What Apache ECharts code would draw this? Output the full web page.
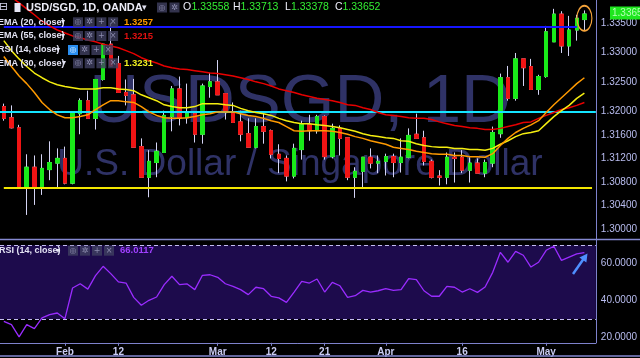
<!DOCTYPE html>
<html><head><meta charset="utf-8">
<script src="https://cdn.jsdelivr.net/npm/echarts@6/dist/echarts.min.js"></script>
<style>html,body{margin:0;padding:0;background:#000;}#c{width:640px;height:358px;}</style>
</head><body><div id="c"></div>
<script>
const dates = ['Jan 22','Jan 23','Jan 24','Jan 25','Jan 26','Jan 29','Jan 30','Jan 31',
'Feb 1','Feb 2','Feb 5','Feb 6','Feb 7','Feb 8','Feb 9','Feb 12','Feb 13','Feb 14','Feb 15','Feb 16','Feb 19','Feb 20','Feb 21','Feb 22','Feb 23','Feb 26','Feb 27','Feb 28',
'Mar 1','Mar 2','Mar 5','Mar 6','Mar 7','Mar 8','Mar 9','Mar 12','Mar 13','Mar 14','Mar 15','Mar 16','Mar 19','Mar 20','Mar 21','Mar 22','Mar 23','Mar 26','Mar 27','Mar 28','Mar 29','Mar 30',
'Apr 2','Apr 3','Apr 4','Apr 5','Apr 6','Apr 9','Apr 10','Apr 11','Apr 12','Apr 13','Apr 16','Apr 17','Apr 18','Apr 19','Apr 20','Apr 23','Apr 24','Apr 25','Apr 26','Apr 27','Apr 30',
'May 1','May 2','May 3','May 4','May 7','May 8','May 9'];
const tickLabels = {'Feb 1':'Feb','Feb 12':'12','Mar 1':'Mar','Mar 12':'12','Mar 21':'21','Apr 2':'Apr','Apr 16':'16','May 1':'May'};
// [open, close, low, high]
const ohlc = [
[1.3208,1.3188,1.3184,1.3213],[1.3189,1.3172,1.3171,1.3210],[1.3172,1.3069,1.3068,1.3177],[1.3069,1.3105,1.3024,1.3127],
[1.3105,1.3071,1.3041,1.3125],[1.3071,1.3103,1.3058,1.3127],[1.3101,1.3113,1.3083,1.3149],[1.3112,1.3120,1.3069,1.3137],
[1.3120,1.3078,1.3076,1.3140],[1.3078,1.3198,1.3076,1.3199],[1.3196,1.3218,1.3161,1.3222],[1.3218,1.3188,1.3188,1.3235],
[1.3188,1.3254,1.3169,1.3254],[1.3254,1.3314,1.3252,1.3316],[1.3314,1.3277,1.3277,1.3350],[1.3281,1.3232,1.3232,1.3294],
[1.3232,1.3227,1.3210,1.3254],[1.3228,1.3139,1.3139,1.3255],[1.3140,1.3088,1.3088,1.3154],[1.3088,1.3115,1.3054,1.3134],
[1.3113,1.3132,1.3088,1.3147],[1.3130,1.3193,1.3130,1.3201],[1.3191,1.3238,1.3166,1.3243],[1.3238,1.3189,1.3176,1.3259],
[1.3189,1.3196,1.3179,1.3247],[1.3196,1.3161,1.3147,1.3196],[1.3161,1.3243,1.3145,1.3247],[1.3242,1.3250,1.3223,1.3265],
[1.3250,1.3228,1.3228,1.3287],[1.3230,1.3198,1.3186,1.3230],[1.3198,1.3181,1.3181,1.3215],[1.3182,1.3161,1.3149,1.3201],
[1.3162,1.3139,1.3139,1.3188],[1.3139,1.3174,1.3137,1.3188],[1.3174,1.3166,1.3145,1.3198],[1.3167,1.3127,1.3120,1.3169],
[1.3127,1.3120,1.3095,1.3144],[1.3120,1.3090,1.3081,1.3125],[1.3090,1.3137,1.3086,1.3145],[1.3135,1.3179,1.3118,1.3184],
[1.3177,1.3167,1.3150,1.3194],[1.3167,1.3191,1.3162,1.3194],[1.3191,1.3123,1.3118,1.3193],[1.3123,1.3171,1.3120,1.3179],
[1.3171,1.3154,1.3125,1.3176],[1.3155,1.3088,1.3083,1.3155],[1.3088,1.3098,1.3053,1.3105],[1.3098,1.3122,1.3071,1.3122],
[1.3122,1.3112,1.3103,1.3137],[1.3112,1.3115,1.3095,1.3125],[1.3115,1.3123,1.3091,1.3128],[1.3123,1.3113,1.3088,1.3128],
[1.3113,1.3122,1.3096,1.3154],[1.3122,1.3159,1.3120,1.3171],[1.3161,1.3154,1.3154,1.3196],[1.3155,1.3115,1.3108,1.3167],
[1.3115,1.3088,1.3086,1.3118],[1.3090,1.3088,1.3074,1.3100],[1.3088,1.3122,1.3076,1.3130],[1.3122,1.3120,1.3079,1.3130],
[1.3122,1.3100,1.3095,1.3134],[1.3100,1.3112,1.3079,1.3122],[1.3112,1.3095,1.3095,1.3120],[1.3095,1.3113,1.3088,1.3118],
[1.3112,1.3164,1.3105,1.3174],[1.3162,1.3257,1.3155,1.3264],[1.3257,1.3222,1.3218,1.3277],[1.3222,1.3289,1.3218,1.3299],
[1.3289,1.3274,1.3243,1.3289],[1.3276,1.3237,1.3237,1.3289],[1.3237,1.3259,1.3228,1.3262],[1.3259,1.3335,1.3257,1.3345],
[1.3318,1.3365,1.3318,1.3374],[1.3365,1.3311,1.3299,1.3370],[1.3311,1.3338,1.3294,1.3362],[1.3338,1.3358,1.3320,1.3364],
[1.33558,1.33652,1.33378,1.33713]];
const ema20 = [1.3293,1.3276,1.3260,1.3247,1.3232,1.3215,1.3203,1.3194,1.3189,1.3189,
1.3191,1.3194,1.3203,1.3211,1.3218,1.3218,1.3216,1.3215,1.3208,1.3199,
1.3193,1.3189,1.3188,1.3188,1.3189,1.3191,1.3194,1.3196,1.3199,1.3199,
1.3199,1.3196,1.3193,1.3191,1.3188,1.3184,1.3181,1.3174,1.3167,1.3166,
1.3167,1.3167,1.3167,1.3166,1.3164,1.3161,1.3157,1.3154,1.3150,1.3147,
1.3144,1.3139,1.3137,1.3135,1.3132,1.3130,1.3128,1.3127,1.3127,1.3125,
1.3125,1.3123,1.3123,1.3122,1.3128,1.3142,1.3154,1.3164,1.3171,1.3177,
1.3184,1.3198,1.3211,1.3223,1.3235,1.3247,1.3257];
const ema55 = [1.3402,1.3394,1.3384,1.3374,1.3364,1.3353,1.3345,1.3338,1.3333,1.3328,
1.3325,1.3321,1.3318,1.3314,1.3311,1.3308,1.3303,1.3298,1.3291,1.3286,
1.3282,1.3277,1.3274,1.3272,1.3271,1.3269,1.3267,1.3265,1.3264,1.3262,
1.3260,1.3257,1.3254,1.3250,1.3247,1.3243,1.3238,1.3235,1.3232,1.3228,
1.3225,1.3222,1.3220,1.3218,1.3215,1.3211,1.3210,1.3206,1.3203,1.3198,
1.3194,1.3193,1.3191,1.3189,1.3188,1.3188,1.3186,1.3182,1.3179,1.3176,
1.3174,1.3172,1.3171,1.3169,1.3169,1.3171,1.3174,1.3177,1.3181,1.3182,
1.3188,1.3193,1.3198,1.3203,1.3206,1.3210,1.3215];
const ema30 = [1.3320,1.3303,1.3289,1.3276,1.3265,1.3257,1.3250,1.3245,1.3242,1.3240,
1.3238,1.3238,1.3238,1.3240,1.3240,1.3238,1.3237,1.3235,1.3228,1.3223,
1.3218,1.3211,1.3208,1.3206,1.3206,1.3208,1.3213,1.3213,1.3213,1.3211,
1.3210,1.3205,1.3201,1.3198,1.3196,1.3193,1.3188,1.3184,1.3181,1.3179,
1.3179,1.3177,1.3176,1.3174,1.3172,1.3169,1.3166,1.3162,1.3159,1.3157,
1.3155,1.3154,1.3150,1.3149,1.3145,1.3142,1.3140,1.3139,1.3139,1.3137,
1.3137,1.3135,1.3135,1.3134,1.3137,1.3144,1.3150,1.3157,1.3162,1.3164,
1.3167,1.3179,1.3191,1.3201,1.3210,1.3222,1.3231];
const rsi = [28.7,26.9,20.2,26.9,24.7,30.5,32.3,33.2,30.1,46.8,
49.1,46.2,53.5,58.6,54.6,50.1,49.5,41.7,37.4,40.1,
41.9,48.6,53.2,48.6,49.0,45.9,53.7,54.0,52.6,49.1,
47.7,45.9,43.2,47.2,46.4,42.3,41.4,39.0,44.6,50.4,
49.5,51.7,44.6,49.9,48.0,41.7,42.6,45.5,44.6,45.3,
46.4,45.5,45.9,51.9,51.3,45.3,42.3,42.3,47.7,47.2,
44.6,46.4,44.4,47.3,55.3,66.2,60.8,66.7,64.6,58.2,
60.8,67.3,69.5,61.8,63.6,65.3,66.0117];
const priceTicks = [1.335,1.330,1.325,1.320,1.316,1.312,1.308,1.304,1.300];
const rsiTicks = [20,40,60];
const levelBlue = 1.3343, levelCyan = 1.3212, levelYellow = 1.3070;
const rsiBands = [30,70];
const lastClose = 1.33652;

const FONT = '"Liberation Sans", Arial, sans-serif';
const AXIS = '#7e82cc', LBL = '#b9bdf0', WICK = '#d4d4f4', UP = '#19ea19', DOWN = '#f01414';

const chart = echarts.init(document.getElementById('c'), null, {renderer:'canvas'});

function txt(x, y, text, fill, font, z, align){
  return {type:'text', x:x, y:y, z:z||100, silent:true,
    style:{text:text, fill:fill, font:font, align:align||'left', verticalAlign:'middle', textAlign:align||'left', textVerticalAlign:'middle'}};
}
function iconBox(x, y, glyph, fill){
  return [{type:'rect', z:99, silent:true, shape:{x:x, y:y-5, width:10, height:10}, style:{fill:fill||'rgba(64,64,96,0.8)'}},
          txt(x+5, y, glyph, fill ? '#dff0ff' : '#8c8cae', '8px "DejaVu Sans"', 100, 'center')];
}
const g = [];
// watermark
g.push(txt(300, 103, 'USDSGD, 1D', '#2f3266', '69px ' + FONT, -5, 'center'));
g.push(txt(300, 165, 'U.S. Dollar / Singapore Dollar', '#2f3266', '37px ' + FONT, -5, 'center'));
// header
g.push(txt(-1, 7.5, '⊟', '#d0d0e8', '11px "DejaVu Sans"'));
g.push({type:'rect', z:100, silent:true, shape:{x:14.5, y:3, width:6, height:9}, style:{fill:'#e6e6f5'}});
g.push(txt(26, 7.5, 'USD/SGD, 1D, OANDA', '#ececf8', 'bold 11px ' + FONT));
g.push(txt(142, 7.5, '▾', '#e0e0f0', '9px "DejaVu Sans"'));
g.push(...iconBox(157, 7.5, '◎'), ...iconBox(169.5, 7.5, '✲'));
[['O',183,'1.33558',191.5],['H',233,'1.33713',240.5],['L',285,'1.33378',291],['C',335,'1.33652',342.5]].forEach(a=>{
  g.push(txt(a[1], 7.5, a[0], '#ececf8', '10.5px ' + FONT));
  g.push(txt(a[3], 7.5, a[2], '#33ee33', '10.5px ' + FONT));
});
// indicator rows
[{t:'EMA (20, close)', y:22.3, v:'1.3257', c:'#ff9900', bx:73, ar:61},
 {t:'EMA (55, close)', y:36, v:'1.3215', c:'#e01010', bx:73, ar:61},
 {t:'RSI (14, close)', y:50, v:'', c:'', bx:68, ar:56, act:true},
 {t:'EMA (30, close)', y:63.3, v:'1.3231', c:'#f0f020', bx:73, ar:62}].forEach(r=>{
  g.push(txt(-2, r.y, r.t, '#e4e4f4', 'bold 9px ' + FONT));
  g.push(txt(r.ar, r.y, '▾', '#e4e4f4', '8px "DejaVu Sans"'));
  g.push(...iconBox(r.bx, r.y, '◎', r.act ? '#2a8ef0' : null), ...iconBox(r.bx+11.7, r.y, '✲'), ...iconBox(r.bx+23.4, r.y, '+'), ...iconBox(r.bx+35.1, r.y, '×'));
  if (r.v) g.push(txt(124, r.y, r.v, r.c, 'bold 9.5px ' + FONT));
});
// RSI panel legend
g.push(txt(-1, 250.7, 'RSI (14, close)', '#e4e4f4', 'bold 9px ' + FONT));
g.push(txt(56, 250.7, '▾', '#e4e4f4', '8px "DejaVu Sans"'));
g.push(...iconBox(68, 250.7, '◎'), ...iconBox(80, 250.7, '✲'), ...iconBox(92, 250.7, '+'), ...iconBox(104, 250.7, '×'));
g.push(txt(120, 250.7, rsi[rsi.length-1].toFixed(4), '#a040ff', 'bold 9.5px ' + FONT));
// separators
g.push({type:'line', z:50, silent:true, shape:{x1:0, y1:239.6, x2:640, y2:239.6}, style:{stroke:'#8488d0', lineWidth:1.5}});
g.push({type:'line', z:50, silent:true, shape:{x1:0, y1:356, x2:640, y2:356}, style:{stroke:'#8488d0', lineWidth:1.5}});
// last price tag
g.push({type:'rect', z:60, silent:true, shape:{x:610, y:6.5, width:30, height:13}, style:{fill:'#1ee61e'}});
g.push(txt(612, 13, lastClose.toFixed(5), '#b4ffb4', '10px ' + FONT, 61));
// arrow annotation
g.push({type:'line', z:60, silent:true, shape:{x1:573, y1:274, x2:583.5, y2:259}, style:{stroke:'#4f8fff', lineWidth:2.5}});
g.push({type:'polygon', z:60, silent:true, shape:{points:[[587.5,253.5],[586.4,262.6],[579.4,257.6]]}, style:{fill:'#4f8fff'}});

const bodies = ohlc.map(d => [d[0], d[1], Math.min(d[0], d[1]), Math.max(d[0], d[1])]);
const isTick = (i, v) => Object.prototype.hasOwnProperty.call(tickLabels, v);

const option = {
  backgroundColor:'#000000',
  animation:false,
  grid:[{left:-4.85, right:31, top:-1.06, height:241.9},
        {left:-4.85, right:31, top:239.8, height:103}],
  xAxis:[
    {type:'category', gridIndex:0, data:dates, boundaryGap:true, show:false},
    {type:'category', gridIndex:1, data:dates, boundaryGap:true,
     axisLine:{show:true, lineStyle:{color:AXIS, width:1}},
     axisTick:{show:true, alignWithLabel:true, interval:isTick, length:3, lineStyle:{color:AXIS}},
     axisLabel:{interval:isTick, formatter:v => tickLabels[v] || '', color:'#c9cbf2', fontSize:10, fontWeight:'bold', fontFamily:FONT, margin:4},
     splitLine:{show:false}}
  ],
  yAxis:[
    {type:'value', gridIndex:0, position:'right', min:1.298, max:1.3389, interval:0.001,
     axisLine:{show:true, lineStyle:{color:AXIS, width:1}}, axisTick:{show:false}, splitLine:{show:false},
     axisLabel:{color:LBL, fontSize:10, fontFamily:FONT, margin:5,
       formatter:v => priceTicks.some(t => Math.abs(t - v) < 1e-7) ? v.toFixed(5) : ''}},
    {type:'value', gridIndex:1, position:'right', min:17, max:73, interval:1,
     axisLine:{show:true, lineStyle:{color:AXIS, width:1}}, axisTick:{show:false}, splitLine:{show:false},
     axisLabel:{color:LBL, fontSize:10, fontFamily:FONT, margin:5,
       formatter:v => rsiTicks.some(t => Math.abs(t - v) < 1e-7) ? v.toFixed(4) : ''}}
  ],
  series:[
    {type:'candlestick', name:'wicks', xAxisIndex:0, yAxisIndex:0, data:ohlc, barWidth:4, z:3, silent:true,
     itemStyle:{color:WICK, color0:WICK, borderColor:WICK, borderColor0:WICK, borderWidth:1},
     markLine:{silent:true, symbol:'none', label:{show:false},
       data:[
         [{coord:[dates[0], levelBlue], lineStyle:{color:'#1616ff', width:2, type:'solid'}}, {coord:[dates[75], levelBlue]}],
         {yAxis:levelCyan, lineStyle:{color:'#14e4ff', width:2, type:'solid'}},
         [{coord:[dates[0], levelYellow], lineStyle:{color:'#f2e600', width:2, type:'solid'}}, {coord:[dates[77], levelYellow]}]
       ]}},
    {type:'candlestick', name:'USD/SGD', xAxisIndex:0, yAxisIndex:0, data:bodies, barWidth:4, z:4, silent:true,
     itemStyle:{color:UP, color0:DOWN, borderColor:UP, borderColor0:DOWN, borderWidth:1},
     markPoint:{silent:true, symbol:'circle', symbolSize:[15,25], label:{show:false},
       itemStyle:{color:'rgba(0,0,0,0)', borderColor:'#f5a33a', borderWidth:1.5},
       data:[{coord:[dates[76], 1.3358]}]}},
    {type:'line', name:'EMA 55', xAxisIndex:0, yAxisIndex:0, data:ema55, symbol:'none', z:5, silent:true,
     lineStyle:{color:'#e80000', width:1.5}},
    {type:'line', name:'EMA 30', xAxisIndex:0, yAxisIndex:0, data:ema30, symbol:'none', z:5, silent:true,
     lineStyle:{color:'#f5ee10', width:1.5}},
    {type:'line', name:'EMA 20', xAxisIndex:0, yAxisIndex:0, data:ema20, symbol:'none', z:5, silent:true,
     lineStyle:{color:'#ff9a00', width:1.5}},
    {type:'line', name:'RSI', xAxisIndex:1, yAxisIndex:1, data:rsi, symbol:'none', z:5, silent:true,
     lineStyle:{color:'#9a2cff', width:1.3},
     markArea:{silent:true, itemStyle:{color:'#1d0b4c'}, data:[[{yAxis:rsiBands[0]}, {yAxis:rsiBands[1]}]]},
     markLine:{silent:true, symbol:'none', label:{show:false},
       lineStyle:{color:'#c4bcf2', width:1, type:[4,3]},
       data:[{yAxis:rsiBands[1]}, {yAxis:rsiBands[0]}]}}
  ],
  graphic:{elements:g}
};
chart.setOption(option);
</script>
</body></html>
